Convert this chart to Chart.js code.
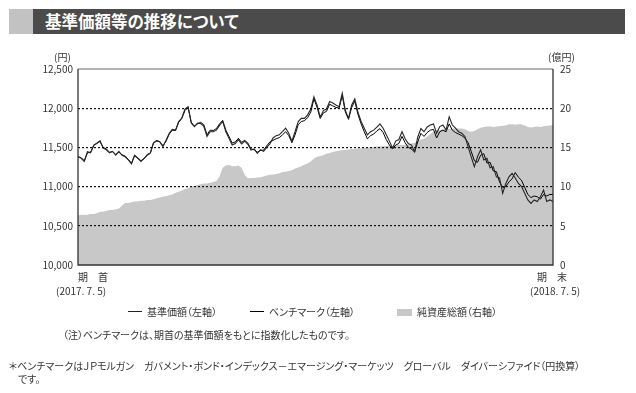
<!DOCTYPE html>
<html lang="ja">
<head>
<meta charset="utf-8">
<script src="https://cdn.jsdelivr.net/npm/chart.js@4.4.1/dist/chart.umd.min.js"></script>
<style>
  body { margin: 0; background: #fff; }
  #page {
    position: relative; width: 636px; height: 393px; overflow: hidden;
    font-family: "Noto Sans CJK JP", "Noto Sans", sans-serif;
    font-feature-settings: "palt"; color: #333;
  }
  #chartBox { position: absolute; left: 0; top: 0; width: 636px; height: 393px; }
  .t { position: absolute; white-space: nowrap; line-height: 1; }
  .bar-light { position: absolute; left: 9px; top: 9px; width: 24px; height: 25px; background: #c2c2c2; }
  .bar-dark { position: absolute; left: 33px; top: 9px; width: 592px; height: 25px; background: #4b4b4b; }
  .title { left: 45px; top: 13px; font-size: 16.5px; font-weight: bold; color: #fff; }
  .small { font-size: 10px; }
  .lg-line { position: absolute; height: 1.2px; background: #222; width: 14px; }
  .lg-box { position: absolute; width: 15px; height: 7px; background: #c8c8c8; }
</style>
</head>
<body>
<div id="page">
  <div class="bar-light"></div>
  <div class="bar-dark"></div>
  <div class="t title">基準価額等の推移について</div>

  <div id="chartBox"><canvas id="navChart"></canvas></div>

  <div class="t small" style="left:54px; top:52px;">(円)</div>
  <div class="t small" style="left:548px; top:52px;">(億円)</div>

  <div class="t small" style="left:78px; top:272px;">期　首</div>
  <div class="t small" style="left:56px; top:286px;">(2017. 7. 5)</div>
  <div class="t small" style="left:537px; top:272px;">期　末</div>
  <div class="t small" style="left:530px; top:286px;">(2018. 7. 5)</div>

  <div class="lg-line" style="left:128px; top:311px;"></div>
  <div class="t small" style="left:147px; top:307px;">基準価額（左軸）</div>
  <div class="lg-line" style="left:250px; top:311px; background:#000;"></div>
  <div class="t small" style="left:269px; top:307px;">ベンチマーク（左軸）</div>
  <div class="lg-box" style="left:397px; top:309px;"></div>
  <div class="t small" style="left:417px; top:307px;">純資産総額（右軸）</div>

  <div class="t small" style="left:63px; top:330px;">（注）ベンチマークは、期首の基準価額をもとに指数化したものです。</div>
  <div class="t small" style="left:9px; top:361px;">＊ベンチマークはＪＰモルガン　ガバメント・ボンド・インデックス－エマージング・マーケッツ　グローバル　ダイバーシファイド（円換算）</div>
  <div class="t small" style="left:18px; top:374px;">です。</div>
</div>

<script>
const fund = [
  11380, 11360, 11320, 11445, 11430, 11530, 11550, 11585, 11490, 11470,
  11430, 11450, 11400, 11450, 11400, 11380, 11340, 11290, 11400, 11360,
  11320, 11360, 11400, 11430, 11555, 11590, 11570, 11510, 11590, 11680,
  11730, 11720, 11830, 11875, 11990, 12020, 11810, 11765, 11810, 11805,
  11770, 11640, 11700, 11700, 11720, 11780, 11830, 11700, 11615, 11530,
  11550, 11600, 11545, 11580, 11540, 11465, 11480, 11425, 11470, 11450,
  11500, 11545, 11620, 11650, 11660, 11700, 11745, 11680, 11580, 11700,
  11830, 11870, 11870, 11915, 11990, 12145, 12040, 11885, 11970, 11990,
  12085, 12065, 12040, 12020, 12190, 11970, 11870, 12040, 12120, 11950,
  11830, 11745, 11660, 11700, 11720, 11760, 11800, 11745, 11660, 11580,
  11490, 11580, 11600, 11700, 11610, 11550, 11530, 11445, 11630, 11740,
  11700, 11760, 11785, 11800, 11680, 11765, 11785, 11720, 11890, 11785,
  11745, 11700, 11680, 11640, 11510, 11380, 11255, 11380, 11470, 11340,
  11360, 11240, 11255, 11125, 11110, 10915, 11040, 11125, 11170, 11110,
  11040, 11000, 10915, 10830, 10785, 10830, 10810, 10870, 10955, 10810,
  10830, 10810
];

const bench = [
  11380, 11370, 11330, 11430, 11440, 11520, 11560, 11575, 11500, 11480,
  11440, 11445, 11410, 11440, 11405, 11390, 11345, 11300, 11395, 11370,
  11330, 11355, 11410, 11425, 11560, 11580, 11575, 11520, 11580, 11670,
  11720, 11715, 11820, 11870, 11970, 12010, 11820, 11770, 11800, 11820,
  11790, 11660, 11720, 11715, 11740, 11800, 11845, 11720, 11640, 11555,
  11570, 11615, 11565, 11590, 11555, 11480, 11470, 11440, 11460, 11465,
  11520, 11570, 11590, 11610, 11625, 11660, 11700, 11650, 11560, 11660,
  11790, 11830, 11840, 11880, 11950, 12120, 12010, 11870, 11940, 11960,
  12050, 12030, 12010, 12000, 12160, 11950, 11860, 12010, 12090, 11920,
  11800, 11700, 11610, 11650, 11670, 11710, 11740, 11690, 11600, 11530,
  11480, 11530, 11550, 11640, 11560, 11500, 11480, 11440, 11570, 11680,
  11640, 11690, 11720, 11730, 11620, 11700, 11720, 11700, 11800, 11720,
  11690, 11670, 11650, 11620, 11560, 11450, 11330, 11310, 11400, 11420,
  11300, 11310, 11200, 11190, 11060, 10990, 11000, 11060, 11100, 11180,
  11120, 11080, 10990, 10900, 10860, 10880, 10870, 10840, 10900, 10880,
  10900, 10900
];

// 純資産総額（億円）
const netAssets = [
  6.3, 6.4, 6.4, 6.4, 6.5, 6.5, 6.6, 6.8, 6.8, 6.9,
  7.0, 7.0, 7.1, 7.2, 7.6, 7.9, 7.9, 8.0, 8.1, 8.1,
  8.2, 8.2, 8.3, 8.3, 8.4, 8.5, 8.6, 8.7, 8.8, 8.9,
  9.0, 9.2, 9.35, 9.5, 9.7, 9.8, 10.0, 10.1, 10.2, 10.3,
  10.4, 10.4, 10.5, 10.6, 10.7, 11.3, 12.4, 12.7, 12.75, 12.6,
  12.6, 12.7, 12.4, 11.5, 11.05, 11.1, 11.1, 11.15, 11.2, 11.3,
  11.4, 11.5, 11.55, 11.6, 11.7, 11.85, 11.9, 12.0, 12.1, 12.3,
  12.45, 12.6, 12.8, 12.95, 13.2, 13.6, 13.8, 13.9, 14.0, 14.2,
  14.3, 14.4, 14.5, 14.6, 14.65, 14.7, 14.7, 14.8, 14.8, 14.85,
  14.9, 14.95, 15.0, 15.0, 15.05, 15.1, 15.1, 15.15, 15.2, 15.2,
  15.2, 15.25, 15.3, 15.3, 15.35, 15.4, 15.5, 15.6, 15.8, 16.0,
  16.1, 16.4, 16.7, 17.0, 17.2, 17.2, 17.3, 17.3, 17.35, 17.4,
  17.4, 17.4, 17.4, 17.3, 17.1, 17.0, 17.1, 17.3, 17.5, 17.6,
  17.65, 17.65, 17.6, 17.65, 17.7, 17.75, 17.8, 17.95, 17.95, 17.9,
  17.95, 17.95, 17.8, 17.6, 17.55, 17.6, 17.65, 17.6, 17.7, 17.75,
  17.8, 17.85
];

const leftTicks = { min: 10000, max: 12500, step: 500 };
const rightTicks = { min: 0, max: 25, step: 5 };

// ─── Plot frame: grey top edge, dark left / bottom / right ────────
const framePlugin = {
  id: 'frame',
  afterDraw(chart) {
    const { ctx, chartArea: a } = chart;
    ctx.save();
    ctx.lineWidth = 1.3;
    ctx.strokeStyle = '#9a9a9a';
    ctx.beginPath();
    ctx.moveTo(a.left, a.top);
    ctx.lineTo(a.right, a.top);
    ctx.stroke();
    ctx.strokeStyle = '#333';
    ctx.beginPath();
    ctx.moveTo(a.left, a.top);
    ctx.lineTo(a.left, a.bottom);
    ctx.lineTo(a.right, a.bottom);
    ctx.lineTo(a.right, a.top);
    ctx.stroke();
    ctx.restore();
  }
};

const tickFont = { family: '"Noto Sans CJK JP", "Noto Sans", sans-serif', size: 10 };

new Chart(document.getElementById('navChart').getContext('2d'), {
  type: 'line',
  data: {
    labels: fund.map((_, i) => i),
    datasets: [
      {
        label: '基準価額',
        data: fund,
        yAxisID: 'y',
        borderColor: '#262626',
        borderWidth: 1.1,
        pointRadius: 0,
        tension: 0,
        order: 1
      },
      {
        label: 'ベンチマーク',
        data: bench,
        yAxisID: 'y',
        borderColor: '#000',
        borderWidth: 1,
        pointRadius: 0,
        tension: 0,
        order: 2
      },
      {
        label: '純資産総額',
        data: netAssets,
        yAxisID: 'y2',
        borderWidth: 0,
        backgroundColor: '#c8c8c8',
        fill: 'origin',
        pointRadius: 0,
        tension: 0,
        order: 3
      }
    ]
  },
  options: {
    responsive: true,
    maintainAspectRatio: false,
    animation: false,
    layout: { padding: { top: 69, bottom: 128, left: 0, right: 0 } },
    plugins: { legend: { display: false }, tooltip: { enabled: false } },
    scales: {
      x: { display: false, offset: false },
      y: {
        position: 'left',
        min: leftTicks.min,
        max: leftTicks.max,
        afterFit: s => { s.width = 78; },
        ticks: {
          stepSize: leftTicks.step,
          padding: 5,
          color: '#333',
          font: tickFont,
          callback: v => v.toLocaleString('en-US')
        },
        grid: {
          drawTicks: false,
          z: 1,
          lineWidth: 1.2,
          color: c => (c.tick && (c.tick.value === leftTicks.min || c.tick.value === leftTicks.max)) ? 'rgba(0,0,0,0)' : '#111'
        },
        border: { display: false, dash: [2, 2] }
      },
      y2: {
        position: 'right',
        min: rightTicks.min,
        max: rightTicks.max,
        afterFit: s => { s.width = 83; },
        ticks: { stepSize: rightTicks.step, padding: 7, color: '#333', font: tickFont },
        grid: { drawOnChartArea: false, drawTicks: false },
        border: { display: false }
      }
    }
  },
  plugins: [framePlugin]
});
</script>
</body>
</html>
